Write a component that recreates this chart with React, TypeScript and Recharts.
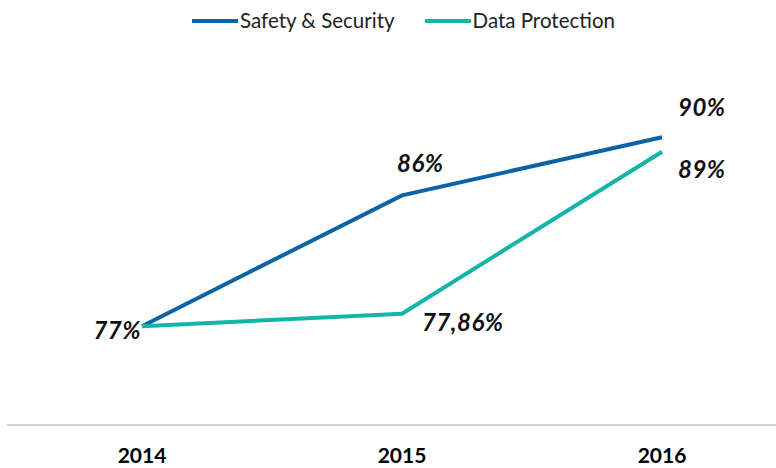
import { LabelList, Legend, Line, LineChart, XAxis, YAxis } from 'recharts';

const years = ['2014', '2015', '2016'];
const safetySecurity = [77, 86, 90];
const dataProtection = [77, 77.86, 89];
const seriesNames = ['Safety & Security', 'Data Protection'];
const seriesColors = ['#0b62a4', '#13b5aa'];

const data = years.map((year, i) => ({
  year,
  safety: safetySecurity[i],
  protection: dataProtection[i]
}));

const FONT = 'Lato, "Open Sans", sans-serif';

// label placement per point: [dx, dy, anchor]; null = no label
const safetyLabelPos: any[] = [
  [-1, 13, 'end'],
  [-5, -23, 'start'],
  [16, -21, 'start']
];
const protectionLabelPos: any[] = [null, [20, 17, 'start'], [16, 26, 'start']];

function formatPct(value: number) {
  return `${String(value).replace('.', ',')}%`;
}

function makeLabel(positions: any[]) {
  return (props: any) => {
    const { x, y, value, index } = props;
    const pos = positions[index];
    if (!pos) return null;
    return (
      <text
        x={x + pos[0]}
        y={y + pos[1]}
        textAnchor={pos[2]}
        fontFamily={FONT}
        fontSize={24}
        fontWeight="bold"
        fontStyle="italic"
        letterSpacing={0.5}
        fill="#111"
      >
        {formatPct(value)}
      </text>
    );
  };
}

function LegendContent() {
  return (
    <div
      style={{
        height: 50,
        display: 'flex',
        justifyContent: 'center',
        alignItems: 'flex-start',
        paddingTop: 7,
        boxSizing: 'border-box',
        paddingLeft: 24,
        fontFamily: FONT,
        fontSize: 20.5,
        color: '#222'
      }}
    >
      {seriesNames.map((name, i) => (
        <div key={name} style={{ display: 'flex', alignItems: 'center', marginRight: i === 0 ? 30 : 0 }}>
          <svg width={46} height={26}>
            <line x1={1} y1={14} x2={45} y2={14} stroke={seriesColors[i]} strokeWidth={4} strokeLinecap="round" />
          </svg>
          <span style={{ marginLeft: 2 }}>{name}</span>
        </div>
      ))}
    </div>
  );
}

export default function App() {
  return (
    <div style={{ position: 'absolute', top: 0, left: 0, width: 776, height: 468, overflow: 'hidden', background: '#fff' }}>
      <LineChart width={776} height={468} data={data} margin={{ top: 0, right: 0, bottom: 0, left: 7 }}>
        <Legend verticalAlign="top" content={<LegendContent />} />
        <XAxis
          dataKey="year"
          height={43}
          padding={{ left: 135, right: 114 }}
          axisLine={{ stroke: '#bfbfbf', strokeWidth: 1.5 }}
          tickLine={false}
          tickMargin={17}
          tick={{ fill: '#000', fontFamily: FONT, fontSize: 21, fontWeight: 'bold' }}
        />
        <YAxis hide domain={[70.2, 96]} />
        <Line
          dataKey="safety"
          name={seriesNames[0]}
          stroke={seriesColors[0]}
          strokeWidth={4}
          dot={false}
          isAnimationActive={false}
        >
          <LabelList dataKey="safety" content={makeLabel(safetyLabelPos)} />
        </Line>
        <Line
          dataKey="protection"
          name={seriesNames[1]}
          stroke={seriesColors[1]}
          strokeWidth={4}
          dot={false}
          isAnimationActive={false}
        >
          <LabelList dataKey="protection" content={makeLabel(protectionLabelPos)} />
        </Line>
      </LineChart>
    </div>
  );
}
